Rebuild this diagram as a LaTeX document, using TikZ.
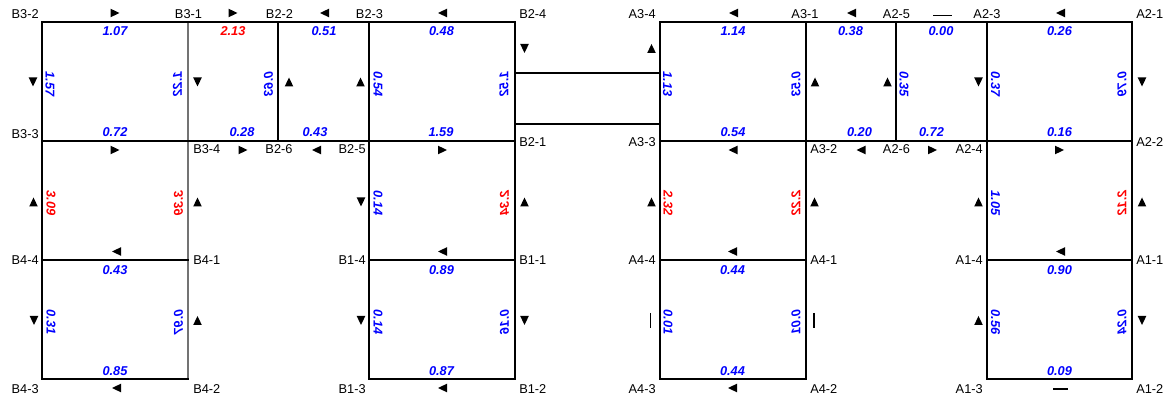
\documentclass[tikz,border=0pt]{standalone}
\usepackage{fontspec}
\setmainfont{Liberation Sans}
\definecolor{vblue}{RGB}{0,0,255}
\definecolor{vred}{RGB}{255,0,0}
\tikzset{
  wall/.style={line width=1.8pt, line cap=rect},
  thinwall/.style={line width=0.8pt, draw=black!55},
  duct/.style={line width=1.5pt},
  lbl/.style={inner sep=0pt, font=\fontsize{9.6}{11}\selectfont},
  val/.style={inner sep=0pt, font=\fontsize{9.6}{11}\selectfont\bfseries\itshape, text=vblue},
  hot/.style={text=vred},
  vl/.style={val, rotate=-90},
  vr/.style={val, rotate=90, xscale=-1},
  zeromark/.style={line width=0.8pt},
  pics/tri/.style={code={\fill[rotate=#1] (4.5,0) -- (-4.5,-4.3) -- (-4.5,4.3) -- cycle;}},
}
\begin{document}
\begin{tikzpicture}[x=0.75pt,y=-0.75pt]
\useasboundingbox (0,0) rectangle (1169,398);
% ---------- corner coordinates ----------
\coordinate (B32) at (42,22);  \coordinate (B31) at (188,22); \coordinate (B22) at (278,22);
\coordinate (B23) at (369,22); \coordinate (B24) at (515,22);
\coordinate (B33) at (42,141); \coordinate (B34) at (188,141); \coordinate (B26) at (278,141);
\coordinate (B25) at (369,141); \coordinate (B21) at (515,141);
\coordinate (B44) at (42,260); \coordinate (B41) at (188,260); \coordinate (B14) at (369,260); \coordinate (B11) at (515,260);
\coordinate (B43) at (42,379); \coordinate (B42) at (188,379); \coordinate (B13) at (369,379); \coordinate (B12) at (515,379);
\coordinate (A34) at (660,22); \coordinate (A31) at (806,22); \coordinate (A25) at (896,22);
\coordinate (A23) at (987,22); \coordinate (A21) at (1132,22);
\coordinate (A33) at (660,141); \coordinate (A32) at (806,141); \coordinate (A26) at (896,141);
\coordinate (A24) at (987,141); \coordinate (A22) at (1132,141);
\coordinate (A44) at (660,260); \coordinate (A41) at (806,260); \coordinate (A14) at (987,260); \coordinate (A11) at (1132,260);
\coordinate (A43) at (660,379); \coordinate (A42) at (806,379); \coordinate (A13) at (987,379); \coordinate (A12) at (1132,379);
\coordinate (c1) at (515,73); \coordinate (c2) at (660,73);
\coordinate (c3) at (515,124); \coordinate (c4) at (660,124);
% ---------- walls ----------
\draw[thinwall] (B31) -- (B42);
\draw[wall] (B32) -- (B24);
\draw[wall] (B33) -- (B21);
\draw[wall] (B44) -- (B41);
\draw[wall] (B14) -- (B11);
\draw[wall] (B43) -- (B42);
\draw[wall] (B13) -- (B12);
\draw[wall] (B32) -- (B43);
\draw[wall] (B22) -- (B26);
\draw[wall] (B23) -- (B13);
\draw[wall] (B24) -- (B12);
\draw[wall] (A34) -- (A21);
\draw[wall] (A33) -- (A22);
\draw[wall] (A44) -- (A41);
\draw[wall] (A14) -- (A11);
\draw[wall] (A43) -- (A42);
\draw[wall] (A13) -- (A12);
\draw[wall] (A34) -- (A43);
\draw[wall] (A31) -- (A42);
\draw[wall] (A25) -- (A26);
\draw[wall] (A23) -- (A13);
\draw[wall] (A21) -- (A12);
\draw[duct] (c1) -- (c2);
\draw[duct] (c3) -- (c4);
% ---------- corner labels ----------
\node[lbl, anchor=base east] (tB32) at (39,18.3) {B3-2};
\node[lbl, anchor=base] (tB31) at (188.5,18.3) {B3-1};
\node[lbl, anchor=base] (tB22) at (279.5,18.3) {B2-2};
\node[lbl, anchor=base] (tB23) at (369.5,18.3) {B2-3};
\node[lbl, anchor=base west] (tB24) at (519,18.3) {B2-4};
\node[lbl, anchor=base east] (tA34) at (656,18.3) {A3-4};
\node[lbl, anchor=base] (tA31) at (805,18.3) {A3-1};
\node[lbl, anchor=base] (tA25) at (896.5,18.3) {A2-5};
\node[lbl, anchor=base] (tA23) at (987,18.3) {A2-3};
\node[lbl, anchor=base west] (tA21) at (1136,18.3) {A2-1};
\node[lbl, anchor=base east] (tB33) at (39,139) {B3-3};
\node[lbl, anchor=base west] (tB34) at (193,154) {B3-4};
\node[lbl, anchor=base] (tB26) at (279,154) {B2-6};
\node[lbl, anchor=base east] (tB25) at (366,154) {B2-5};
\node[lbl, anchor=base west] (tB21) at (519,147) {B2-1};
\node[lbl, anchor=base east] (tA33) at (656,147) {A3-3};
\node[lbl, anchor=base west] (tA32) at (810,154) {A3-2};
\node[lbl, anchor=base] (tA26) at (896.5,154) {A2-6};
\node[lbl, anchor=base east] (tA24) at (983,154) {A2-4};
\node[lbl, anchor=base west] (tA22) at (1136,147) {A2-2};
\node[lbl, anchor=base east] (tB44) at (39,265) {B4-4};
\node[lbl, anchor=base west] (tB41) at (193,265) {B4-1};
\node[lbl, anchor=base east] (tB14) at (366,265) {B1-4};
\node[lbl, anchor=base west] (tB11) at (519,265) {B1-1};
\node[lbl, anchor=base east] (tA44) at (656,265) {A4-4};
\node[lbl, anchor=base west] (tA41) at (810,265) {A4-1};
\node[lbl, anchor=base east] (tA14) at (983,265) {A1-4};
\node[lbl, anchor=base west] (tA11) at (1136,265) {A1-1};
\node[lbl, anchor=base east] (tB43) at (39,393) {B4-3};
\node[lbl, anchor=base west] (tB42) at (193,393) {B4-2};
\node[lbl, anchor=base east] (tB13) at (366,393) {B1-3};
\node[lbl, anchor=base west] (tB12) at (519,393) {B1-2};
\node[lbl, anchor=base east] (tA43) at (656,393) {A4-3};
\node[lbl, anchor=base west] (tA42) at (810,393) {A4-2};
\node[lbl, anchor=base east] (tA13) at (983,393) {A1-3};
\node[lbl, anchor=base west] (tA12) at (1136,393) {A1-2};
% ---------- horizontal values ----------
\node[val, anchor=base] (h1) at (115,36) {1.07};
\node[val, hot, anchor=base] (h2) at (233,36) {2.13};
\node[val, anchor=base] (h3) at (324,36) {0.51};
\node[val, anchor=base] (h4) at (441.5,36) {0.48};
\node[val, anchor=base] (h5) at (733,36) {1.14};
\node[val, anchor=base] (h6) at (850.5,36) {0.38};
\node[val, anchor=base] (h7) at (941,36) {0.00};
\node[val, anchor=base] (h8) at (1059.5,36) {0.26};
\node[val, anchor=base] (h9) at (115,136.7) {0.72};
\node[val, anchor=base] (h10) at (242,136.7) {0.28};
\node[val, anchor=base] (h11) at (315,136.7) {0.43};
\node[val, anchor=base] (h12) at (441,136.7) {1.59};
\node[val, anchor=base] (h13) at (733,136.7) {0.54};
\node[val, anchor=base] (h14) at (859.5,136.7) {0.20};
\node[val, anchor=base] (h15) at (931.5,136.7) {0.72};
\node[val, anchor=base] (h16) at (1059.5,136.7) {0.16};
\node[val, anchor=base] (h17) at (115,274.7) {0.43};
\node[val, anchor=base] (h18) at (441.5,274.7) {0.89};
\node[val, anchor=base] (h19) at (732.5,274.7) {0.44};
\node[val, anchor=base] (h20) at (1059.5,274.7) {0.90};
\node[val, anchor=base] (h21) at (115,376) {0.85};
\node[val, anchor=base] (h22) at (441.5,376) {0.87};
\node[val, anchor=base] (h23) at (732.5,376) {0.44};
\node[val, anchor=base] (h24) at (1059.5,376) {0.09};
% ---------- vertical values ----------
\node[vl] (u1) at (50,84) {1.57};
\node[vr] (u2) at (177.5,84) {1.22};
\node[vr] (u3) at (268.5,84) {0.63};
\node[vl] (u4) at (378,84) {0.54};
\node[vr] (u5) at (504,84) {1.52};
\node[vl] (u6) at (667.5,84) {1.13};
\node[vr] (u7) at (796,84) {0.53};
\node[vl] (u8) at (904,84) {0.35};
\node[vl] (u9) at (995.5,84) {0.37};
\node[vr] (u10) at (1122,84) {0.79};
\node[vl, hot] (m1) at (51,203) {3.09};
\node[vr, hot] (m2) at (178.5,203) {3.39};
\node[vl] (m3) at (378,203) {0.14};
\node[vr, hot] (m4) at (504.5,203) {2.34};
\node[vl, hot] (m5) at (668,203) {2.32};
\node[vr, hot] (m6) at (796,203) {2.22};
\node[vl] (m7) at (995.5,203) {1.05};
\node[vr, hot] (m8) at (1122,203) {2.12};
\node[vl] (l1) at (51,322) {0.31};
\node[vr] (l2) at (178.5,322) {0.97};
\node[vl] (l3) at (378,322) {0.14};
\node[vr] (l4) at (504.5,322) {0.16};
\node[vl] (l5) at (668,322) {0.01};
\node[vr] (l6) at (796,322) {0.01};
\node[vl] (l7) at (995.5,322) {0.56};
\node[vr] (l8) at (1122,322) {0.24};
% ---------- flow markers ----------
% top row
\pic at (115,13) {tri=0};
\pic at (233,13) {tri=0};
\pic at (324.5,13) {tri=180};
\pic at (442.5,13) {tri=180};
\pic at (733.5,13) {tri=180};
\pic at (851.5,13) {tri=180};
\draw[zeromark] (933,15.7) -- (952,15.7);
\pic at (1060.5,13) {tri=180};
% row below 141
\pic at (115,150) {tri=0};
\pic at (243,150) {tri=0};
\pic at (316.5,150) {tri=180};
\pic at (442.5,150) {tri=0};
\pic at (733,150) {tri=180};
\pic at (861,150) {tri=180};
\pic at (932.5,150) {tri=0};
\pic at (1059.5,150) {tri=0};
% row above 260
\pic at (116.5,251.5) {tri=180};
\pic at (442.5,251.5) {tri=180};
\pic at (732.5,251.5) {tri=180};
\pic at (1060.5,251.5) {tri=180};
% bottom row
\pic at (116.5,388) {tri=180};
\pic at (442.5,388) {tri=180};
\pic at (732.5,388) {tri=180};
\draw[zeromark] (1053,389) -- (1068,389);
% upper verticals
\pic at (33,82) {tri=-90};
\pic at (197.5,82) {tri=-90};
\pic at (289,82) {tri=90};
\pic at (360.5,82) {tri=90};
\pic at (524.5,48.5) {tri=-90};
\pic at (651.5,48.5) {tri=90};
\pic at (815,82) {tri=90};
\pic at (887.5,82) {tri=90};
\pic at (978.5,82) {tri=-90};
\pic at (1142,82) {tri=-90};
% middle verticals
\pic at (33.5,202) {tri=90};
\pic at (197.5,202) {tri=90};
\pic at (361,202) {tri=-90};
\pic at (524.5,202) {tri=90};
\pic at (651.5,202) {tri=90};
\pic at (814.5,202) {tri=90};
\pic at (978.5,202) {tri=90};
\pic at (1142,202) {tri=90};
% lower verticals
\pic at (34,320.5) {tri=-90};
\pic at (197.5,320.5) {tri=90};
\pic at (361,320.5) {tri=-90};
\pic at (524.5,320.5) {tri=-90};
\draw[zeromark] (650.5,313) -- (650.5,328);
\draw[zeromark] (814,313) -- (814,328);
\pic at (978.5,320.5) {tri=90};
\pic at (1142,320.5) {tri=-90};
\end{tikzpicture}
\end{document}
